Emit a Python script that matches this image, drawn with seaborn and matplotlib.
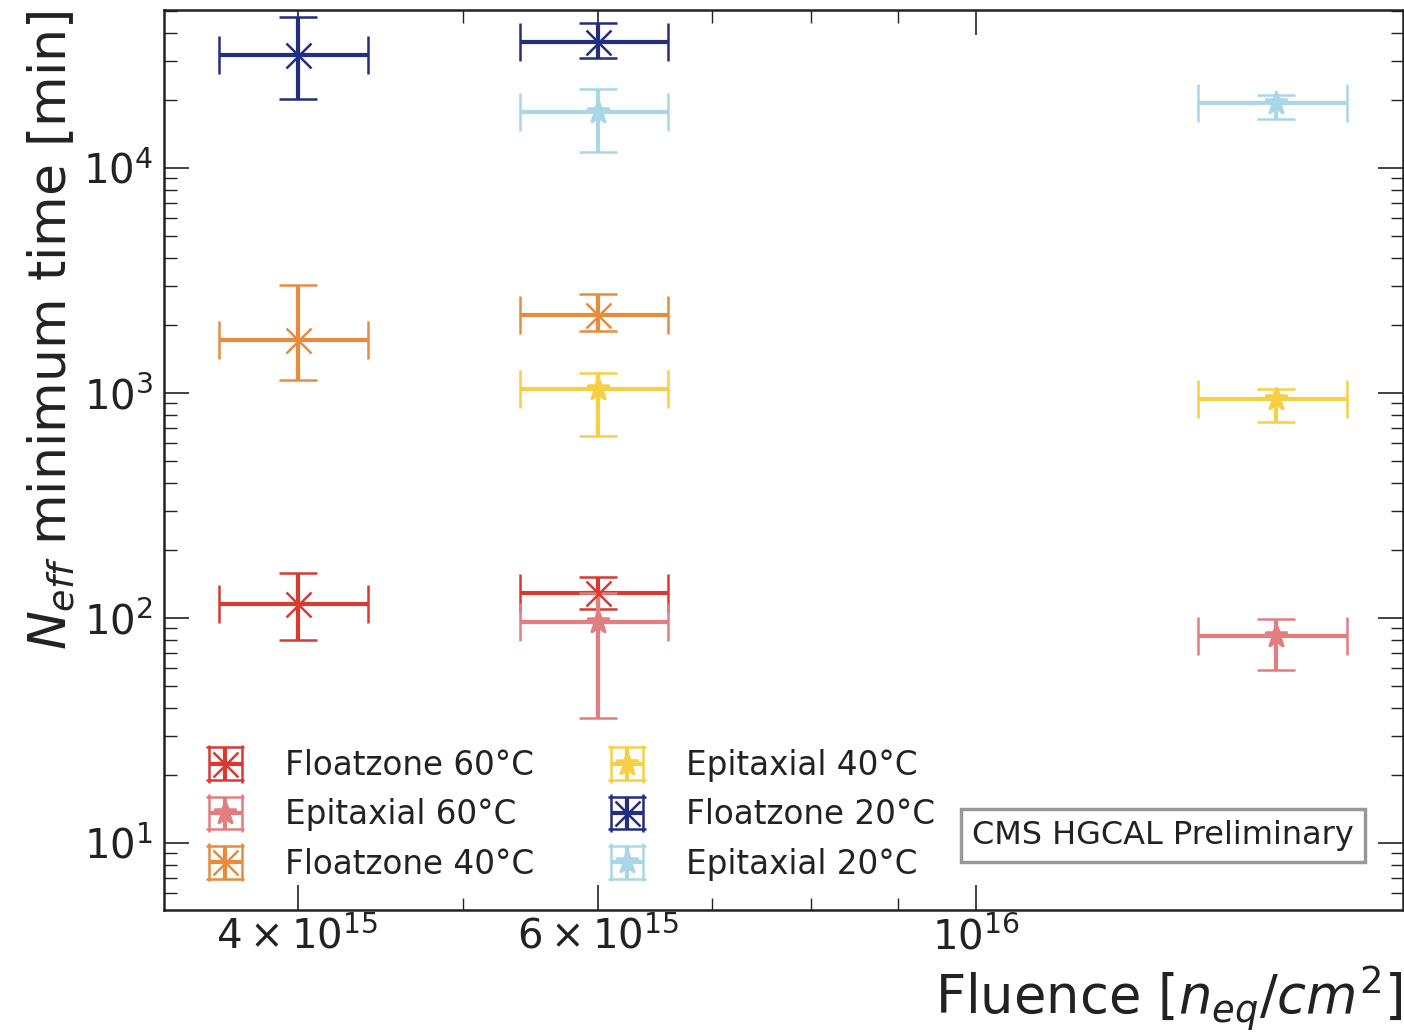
import numpy as np
import matplotlib
matplotlib.use("Agg")
import matplotlib.pyplot as plt
import seaborn as sns
from matplotlib.ticker import FixedLocator, FixedFormatter, LogLocator, NullFormatter

sns.set_theme(style="ticks")
plt.rcParams['font.family'] = ['DejaVu Sans']
plt.rcParams['mathtext.fontset'] = 'dejavusans'

# ---- data ----
x_fz = [4e15, 6e15]
x_epi = [6e15, 1.5e16]
xerr_frac = 0.10

fz60 = [116, 129]; fz60_lo = [80, 110]; fz60_hi = [158, 152]
epi60 = [96, 83]; epi60_lo = [36, 59]; epi60_hi = [129, 99]
fz40 = [1720, 2220]; fz40_lo = [1140, 1890]; fz40_hi = [3020, 2750]
epi40 = [1040, 940]; epi40_lo = [644, 743]; epi40_hi = [1230, 1042]
fz20 = [31800, 36300]; fz20_lo = [20300, 31000]; fz20_hi = [47000, 44000]
epi20 = [17700, 19400]; epi20_lo = [11800, 16500]; epi20_hi = [22400, 21100]

labels = ["Floatzone 60°C", "Epitaxial 60°C", "Floatzone 40°C",
          "Epitaxial 40°C", "Floatzone 20°C", "Epitaxial 20°C"]
colors = ["#d83a31", "#e27d80", "#e98b3c", "#f6cf46", "#232e80", "#a9d7e6"]

series = [
    (x_fz, fz60, fz60_lo, fz60_hi, 'x'),
    (x_epi, epi60, epi60_lo, epi60_hi, '*'),
    (x_fz, fz40, fz40_lo, fz40_hi, 'x'),
    (x_epi, epi40, epi40_lo, epi40_hi, '*'),
    (x_fz, fz20, fz20_lo, fz20_hi, 'x'),
    (x_epi, epi20, epi20_lo, epi20_hi, '*'),
]

fig = plt.figure(figsize=(14.04, 10.33), dpi=100)
ax = fig.add_axes([0.1168, 0.119, 0.8825, 0.8713])

for (xs, ys, lo, hi, mk), lab, c in zip(series, labels, colors):
    xs = np.array(xs); ys = np.array(ys)
    yerr = [ys - np.array(lo), np.array(hi) - ys]
    xerr = [xs * xerr_frac, xs * xerr_frac]
    ax.errorbar(xs, ys, xerr=xerr, yerr=yerr, fmt=mk, color=c, ecolor=c,
                markersize=18 if mk == 'x' else 17, markeredgewidth=1.8,
                elinewidth=3.0, capsize=14, capthick=3.0, label=lab)

ax.set_xscale('log')
ax.set_yscale('log')
ax.set_xlim(3.34e15, 1.78e16)
ax.set_ylim(5.04, 5.04e4)

ax.xaxis.set_major_locator(FixedLocator([4e15, 6e15, 1e16]))
ax.xaxis.set_major_formatter(FixedFormatter([r'$4\times10^{15}$', r'$6\times10^{15}$', r'$10^{16}$']))
ax.xaxis.set_minor_locator(FixedLocator([5e15, 7e15, 8e15, 9e15]))
ax.xaxis.set_minor_formatter(NullFormatter())
ax.yaxis.set_major_locator(LogLocator(base=10, numticks=10))
ax.yaxis.set_minor_locator(LogLocator(base=10, subs=np.arange(2, 10), numticks=20))
ax.yaxis.set_minor_formatter(NullFormatter())

ax.tick_params(which='both', direction='in', top=True, right=True, colors='#222222')
ax.tick_params(which='major', length=18, width=1.2, labelsize=29, pad=8)
ax.tick_params(which='minor', length=9, width=1.0)
ax.tick_params(axis='x', which='major', pad=5)
for sp in ax.spines.values():
    sp.set_color('#222222'); sp.set_linewidth(1.8)

ax.set_xlabel(r'Fluence [$n_{eq}/cm^2$]', fontsize=38, loc='right', color='#222222', labelpad=4)
ax.set_ylabel(r'$N_{eff}$ minimum time [min]', fontsize=37.5, loc='top', color='#222222', labelpad=4)

leg = ax.legend(loc='lower left', bbox_to_anchor=(0.01, 0.0), ncol=2, frameon=False,
                fontsize=23.5, handlelength=1.2, handletextpad=1.22, columnspacing=2.25,
                labelspacing=0.5)
for t in leg.get_texts():
    t.set_color('#222222')

ax.text(0.806, 0.083, 'CMS HGCAL Preliminary', transform=ax.transAxes, fontsize=23,
        ha='center', va='center', color='#222222',
        bbox=dict(boxstyle='square,pad=0.35', facecolor='white', edgecolor='#999999', linewidth=2.5))

fig.savefig('out.png', dpi=100)
